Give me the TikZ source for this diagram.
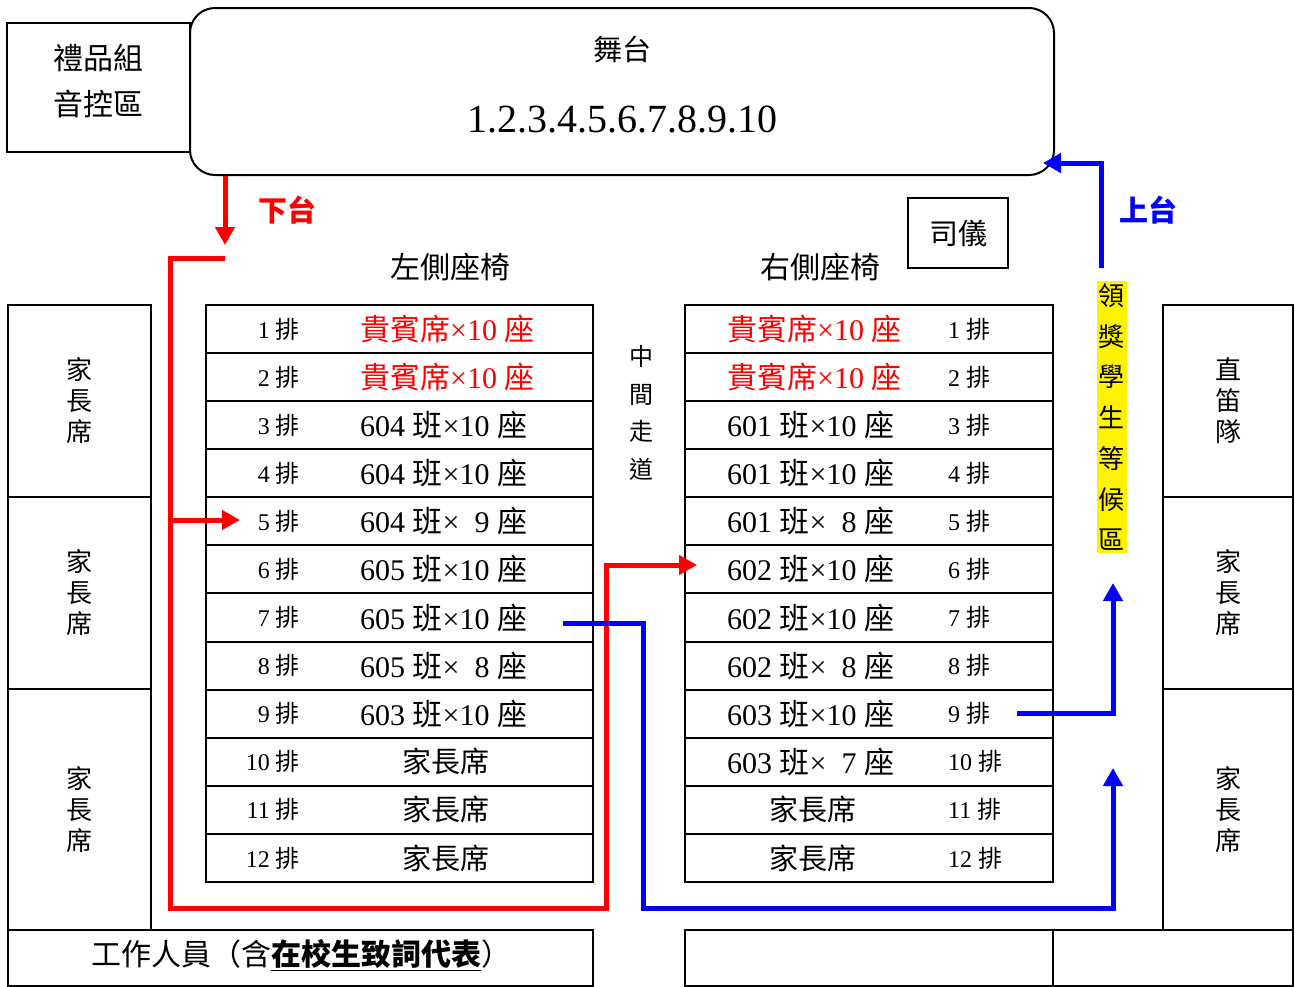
\documentclass[tikz,border=0pt]{standalone}
\usepackage{fontspec}
\setmainfont{Liberation Serif}
\newfontfamily\cjk{Noto Sans CJK TC}
\usetikzlibrary{arrows.meta}
\newcommand\myseat[2]{#1 {\cjk 班}×#2 {\cjk 座}}
\newcommand\myvip{{\cjk 貴賓席}×10 {\cjk 座}}
\begin{document}
\begin{tikzpicture}[x=1pt,y=-1pt,
  frame/.style={draw, line width=2pt, inner sep=0pt, font=\cjk\fontsize{28}{34}\selectfont},
  rowL/.style={frame, minimum width=387, minimum height=48.08},
  rowR/.style={frame, minimum width=368, minimum height=48.08},
  lab/.style={inner sep=0pt, font=\fontsize{24}{26}\selectfont},
  main/.style={inner sep=0pt, font=\fontsize{30}{32}\selectfont},
  zh/.style={inner sep=0pt, font=\cjk\fontsize{29}{34}\selectfont},
  vert/.style={inner sep=0pt, align=center, font=\cjk\fontsize{26}{31}\selectfont},
  redline/.style={draw=red, line width=5pt},
  blueline/.style={draw=blue, line width=5pt},
  tip/.style={-{Triangle[length=18pt,width=19pt]}}
]
\useasboundingbox (0,0) rectangle (1295,986);

% stage and top boxes
\node[frame, minimum width=183, minimum height=129] (gift) at (98.5,87.5) {};
\node[zh, align=center, font=\cjk\fontsize{30}{46}\selectfont] (giftt) at (98,81) {禮品組\\音控區};
\node[frame, rounded corners=25pt, minimum width=864, minimum height=167] (stage) at (622,91.5) {};
\node[zh] (staget) at (622,50) {舞台};
\node[inner sep=0pt, font=\fontsize{40}{44}\selectfont] (nums) at (622,119) {1.2.3.4.5.6.7.8.9.10};
\node[frame, font=\cjk\fontsize{29}{34}\selectfont, minimum width=100, minimum height=70] (mc) at (958,233) {司儀};

\node[zh, font=\cjk\fontsize{30}{34}\selectfont] (lefttitle) at (450,267) {左側座椅};
\node[zh, font=\cjk\fontsize{30}{34}\selectfont] (righttitle) at (820,267) {右側座椅};

% side columns
\node[frame, vert, minimum width=143, minimum height=192] (LC1) at (79.5,401) {家\\長\\席};
\node[frame, vert, minimum width=143, minimum height=192] (LC2) at (79.5,593) {家\\長\\席};
\node[frame, vert, minimum width=143, minimum height=241] (LC3) at (79.5,809.5) {家\\長\\席};
\node[frame, vert, minimum width=130, minimum height=192] (RC1) at (1228,401) {直\\笛\\隊};
\node[frame, vert, minimum width=130, minimum height=192] (RC2) at (1228,593) {家\\長\\席};
\node[frame, vert, minimum width=130, minimum height=241] (RC3) at (1228,809.5) {家\\長\\席};

% bottom boxes
\node[frame, minimum width=585, minimum height=56] (B1) at (300.5,958) {};
\node[zh, font=\cjk\fontsize{30}{34}\selectfont] (B1t) at (301,955) {工作人員（含\underline{\bfseries 在校生致詞代表}）};
\node[frame, minimum width=368, minimum height=56] (B2) at (869,958) {};
\node[frame, minimum width=240, minimum height=56] (B3) at (1173,958) {};

% middle aisle
\node[vert, font=\cjk\fontsize{24}{37.5}\selectfont] (aisle) at (641,413) {中\\間\\走\\道};

% tables
\foreach \i in {1,...,12} {
  \node[rowL] (L\i) at (399.5,{305+48.08*(\i-0.5)}) {};
  \node[rowR] (R\i) at (869,{305+48.08*(\i-0.5)}) {};
  \node[lab, anchor=east] (Ll\i) at (300,{305+48.08*(\i-0.5)}) {\i\ {\cjk 排}};
  \node[lab, anchor=west] (Rl\i) at (948,{305+48.08*(\i-0.5)}) {\i\ {\cjk 排}};
}
\foreach \i/\t in {1/{\textcolor{red}{\myvip}},2/{\textcolor{red}{\myvip}},3/{\myseat{604}{10}},4/{\myseat{604}{10}},5/{\myseat{604}{\hphantom{1}9}},6/{\myseat{605}{10}},7/{\myseat{605}{10}},8/{\myseat{605}{\hphantom{1}8}},9/{\myseat{603}{10}}} {
  \node[main, anchor=west] (Lm\i) at (360,{305+48.08*(\i-0.5)}) {\t};
}
\foreach \i/\t in {1/{\textcolor{red}{\myvip}},2/{\textcolor{red}{\myvip}},3/{\myseat{601}{10}},4/{\myseat{601}{10}},5/{\myseat{601}{\hphantom{1}8}},6/{\myseat{602}{10}},7/{\myseat{602}{10}},8/{\myseat{602}{\hphantom{1}8}},9/{\myseat{603}{10}},10/{\myseat{603}{\hphantom{1}7}}} {
  \node[main, anchor=west] (Rm\i) at (727,{305+48.08*(\i-0.5)}) {\t};
}
\foreach \i in {10,11,12} {
  \node[zh] (Lp\i) at (446,{305+48.08*(\i-0.5)}) {家長席};
}
\foreach \i in {11,12} {
  \node[zh] (Rp\i) at (813,{305+48.08*(\i-0.5)}) {家長席};
}

% waiting area
\node[fill=yellow, inner sep=2pt, align=center, font=\cjk\fontsize{26}{40.7}\selectfont] (wait) at (1111.5,417) {領\\獎\\學\\生\\等\\候\\區};

% labels
\node[inner sep=0pt, text=red, font=\cjk\bfseries\fontsize{29}{30}\selectfont] (down) at (287,210) {下台};
\node[inner sep=0pt, text=blue, font=\cjk\bfseries\fontsize{29}{30}\selectfont] (up) at (1148,210) {上台};

% coordinates
\coordinate (d0) at (225,176);
\coordinate (d1) at (225,245);
\coordinate (r0) at (225,258);
\coordinate (r1) at (170,258);
\coordinate (r2) at (170,908);
\coordinate (r3) at (606,908);
\coordinate (r4) at (606,565);
\coordinate (r5) at (697,565);
\coordinate (rb0) at (170,520);
\coordinate (rb1) at (240,520);
\coordinate (b0) at (563,623);
\coordinate (b1) at (643,623);
\coordinate (b2) at (643,908);
\coordinate (b3) at (1113,908);
\coordinate (b4) at (1113,768);
\coordinate (c0) at (1017,713);
\coordinate (c1) at (1113,713);
\coordinate (c2) at (1113,583);
\coordinate (u0) at (1101,268);
\coordinate (u1) at (1101,163);
\coordinate (u2) at (1043,163);

% connectors
\draw[redline, tip] (d0) -- (d1);
\draw[redline, tip] (r0) -- (r1) -- (r2) -- (r3) -- (r4) -- (r5);
\draw[redline, tip] (rb0) -- (rb1);
\draw[blueline, tip] (b0) -- (b1) -- (b2) -- (b3) -- (b4);
\draw[blueline, tip] (c0) -- (c1) -- (c2);
\draw[blueline, tip] (u0) -- (u1) -- (u2);
\end{tikzpicture}
\end{document}
